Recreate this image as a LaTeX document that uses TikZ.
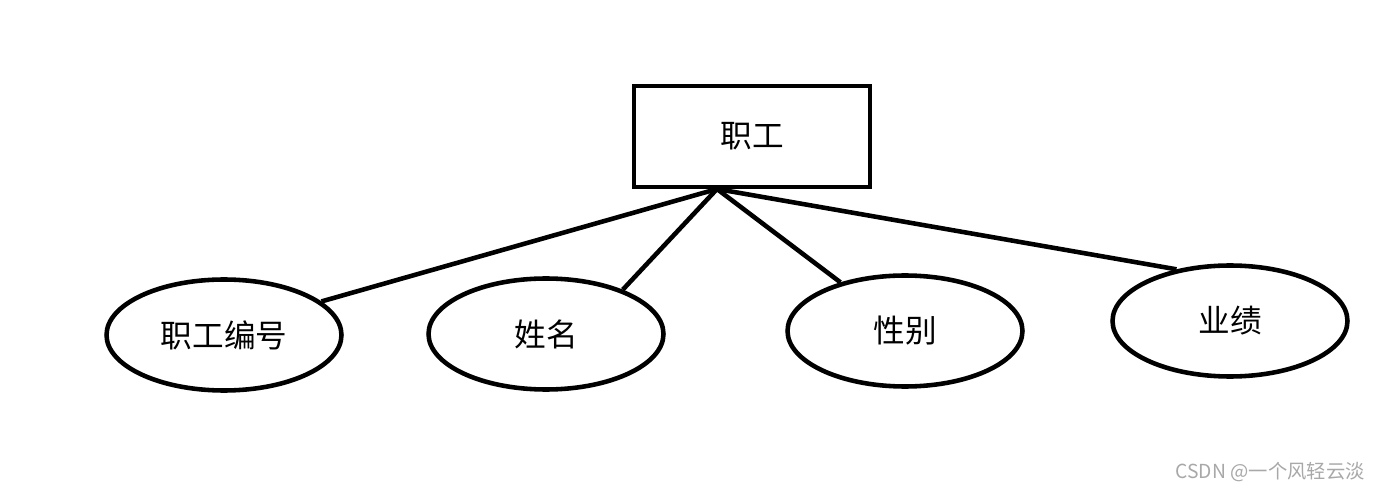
\documentclass[tikz,border=0pt]{standalone}
\usepackage{fontspec}
\setmainfont{Noto Sans CJK SC}
\newfontfamily\cjk{Noto Sans CJK SC}
\usetikzlibrary{shapes.geometric,calc}
\definecolor{wm}{HTML}{A8A8A8}
\tikzset{
  entity/.style={draw, line width=2.6pt, rectangle, minimum width=4.72cm, minimum height=2.02cm, inner sep=0pt, font=\cjk\fontsize{18}{20}\selectfont},
  attr/.style={draw, line width=2.6pt, ellipse, minimum width=4.7cm, minimum height=2.22cm, inner sep=0pt, font=\cjk\fontsize{18}{20}\selectfont},
  link/.style={line width=2.6pt},
  mark text/.style={font=\cjk\fontsize{11}{13}\selectfont, text=wm, inner sep=0pt}
}
\begin{document}
\begin{tikzpicture}[x=0.02cm, y=-0.02cm]
\useasboundingbox (0,0) rectangle (1380,493);
\node[entity] (emp) at (752,136.5) {职工};
\node[attr] (e1) at (224,335) {职工编号};
\node[attr] (e2) at (546,334) {姓名};
\node[attr] (e3) at (905,331) {性别};
\node[attr] (e4) at (1230,321) {业绩};
\coordinate (hub) at (717,189);
\draw[link] (hub) -- (e1.19.6);
\draw[link] (hub) -- (e2.30);
\draw[link] (hub) -- (e3.143);
\draw[link] (hub) -- (e4.136);
\node[mark text, anchor=east] (wm) at (1365,472) {CSDN @一个风轻云淡};
\end{tikzpicture}
\end{document}
